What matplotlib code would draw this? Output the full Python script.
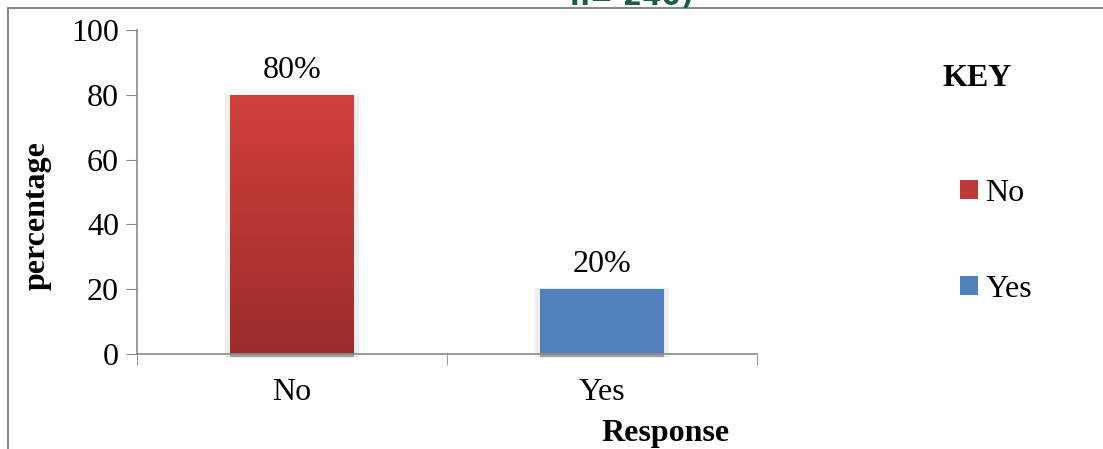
import numpy as np
import matplotlib.pyplot as plt
from matplotlib.patches import Patch, Rectangle
from matplotlib.colors import LinearSegmentedColormap
from matplotlib.lines import Line2D

categories = ["No", "Yes"]
values = [80, 20]
labels = ["80%", "20%"]
yticks = [0, 20, 40, 60, 80, 100]

plt.rcParams['font.family'] = ['Liberation Serif', 'DejaVu Serif']
fs = 23

fig = plt.figure(figsize=(11.03, 4.49), dpi=100)
ax = fig.add_axes([137/1103, 95/449, 620/1103, 324/449])

x = np.arange(len(categories))
grey = '#898989'

# soft shadow behind the bars
for xi, v in zip(x, values):
    ax.add_patch(Rectangle((xi - 0.215, -1.2), 0.43, v + 1.5, color='#eeeeee', zorder=1, lw=0,
                           clip_on=False))
    ax.add_patch(Rectangle((xi - 0.2, -1.0), 0.4, 1.0, color='#a0a0a0', zorder=1.5, lw=0,
                           clip_on=False))

bars = ax.bar(x, values, width=0.4, color=['#c0393a', '#4f81bd'], zorder=2)

# vertical gradient on the "No" bar
reds = LinearSegmentedColormap.from_list('reds', ['#9b2c2b', '#d1403c'])
grad = np.linspace(0, 1, 256).reshape(-1, 1)
b = bars[0]
im = ax.imshow(grad, cmap=reds, origin='lower', aspect='auto', zorder=3,
               extent=[b.get_x(), b.get_x() + b.get_width(), 0, b.get_height()])
im.set_clip_path(b)

for xi, v, lab in zip(x, values, labels):
    ax.text(xi, v + 7.6, lab, ha='center', va='center', fontsize=fs)

ax.set_xlim(-0.5, 1.5)
ax.set_ylim(0, 100)
ax.set_yticks(yticks)
ax.set_xticks(x)
ax.set_xticklabels(categories)
ax.set_xticks([-0.5, 0.5, 1.5], minor=True)
ax.tick_params(axis='x', which='major', length=0, pad=17, labelsize=fs)
ax.tick_params(axis='x', which='minor', length=8, color=grey, direction='out')
ax.tick_params(axis='y', length=8, color=grey, pad=5, labelsize=fs)
for s in ['top', 'right']:
    ax.spines[s].set_visible(False)
for s in ['left', 'bottom']:
    ax.spines[s].set_color(grey)
    ax.spines[s].set_linewidth(1.2)
    ax.spines[s].set_zorder(4)

fig.text(37/1103, 1 - 216/449, 'percentage', rotation=90, ha='center', va='center',
         fontsize=fs, fontweight='bold')
fig.text(666/1103, 1 - 433/449, 'Response', ha='center', va='center',
         fontsize=fs, fontweight='bold')

# key
fig.text(977/1103, 1 - 79/449, 'KEY', ha='center', va='center', fontsize=fs, fontweight='bold')
handles = [Patch(facecolor='#c0393a'), Patch(facecolor='#4f81bd')]
fig.legend(handles, categories, loc='upper left', bbox_to_anchor=(960/1103, 1 - 179/449),
           frameon=False, fontsize=fs, handlelength=0.55, handleheight=0.55,
           handletextpad=0.25, labelspacing=2.1, borderpad=0, borderaxespad=0)

# outer frame lines and clipped heading
fig.add_artist(Line2D([8/1103, 1], [1 - 8/449, 1 - 8/449], color=grey, lw=1.5))
fig.add_artist(Line2D([8/1103, 8/1103], [0, 1 - 8/449], color=grey, lw=1.5))
fig.text(632/1103, 1 - 5/449, 'n= 240)', ha='center', va='baseline', fontsize=20,
         fontweight='bold', color='#1b5e4b', family=['DejaVu Sans'])

fig.savefig('out.png', dpi=100)
